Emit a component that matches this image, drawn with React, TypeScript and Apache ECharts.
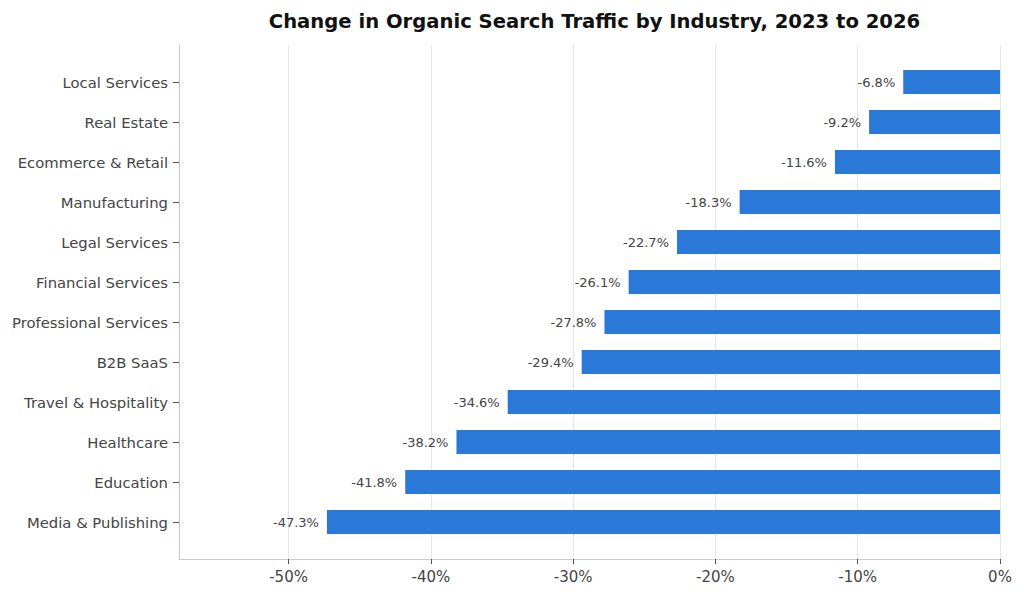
import React, { useEffect, useRef } from "react";
import * as echarts from "echarts";

const categories = [
  "Local Services",
  "Real Estate",
  "Ecommerce & Retail",
  "Manufacturing",
  "Legal Services",
  "Financial Services",
  "Professional Services",
  "B2B SaaS",
  "Travel & Hospitality",
  "Healthcare",
  "Education",
  "Media & Publishing",
];
const values = [-6.8, -9.2, -11.6, -18.3, -22.7, -26.1, -27.8, -29.4, -34.6, -38.2, -41.8, -47.3];
const xTicks = [-50, -40, -30, -20, -10, 0];

const FONT = "DejaVu Sans";

export default function App() {
  const ref = useRef<HTMLDivElement>(null);
  useEffect(() => {
    if (!ref.current) return;
    const chart = echarts.init(ref.current, undefined, { renderer: "svg" });
    const xMin = -57.7;
    chart.setOption({
      animation: false,
      backgroundColor: "#ffffff",
      textStyle: { fontFamily: FONT },
      title: {
        text: "Change in Organic Search Traffic by Industry, 2023 to 2026",
        left: 589.5,
        textAlign: "center",
        top: 6,
        textStyle: { fontFamily: FONT, fontSize: 19.6, fontWeight: "bold", color: "#111111" },
      },
      grid: [
        { left: 179, right: 24, top: 45, bottom: 38 },
        { left: 179, right: 24, top: 62, bottom: 55 },
      ],
      xAxis: [
        {
          type: "value",
          gridIndex: 0,
          min: xMin,
          max: 0,
          axisLine: { show: true, onZero: false, lineStyle: { color: "#cccccc", width: 1.2 } },
          axisTick: { show: true, customValues: xTicks, length: 5, lineStyle: { color: "#555555" } },
          axisLabel: {
            customValues: xTicks,
            formatter: (v: number) => `${Math.round(v)}%`,
            fontSize: 15,
            color: "#444444",
            margin: 10,
            fontFamily: FONT,
          },
          splitLine: { show: true, lineStyle: { color: "#e6e6e6", width: 1 } },
        },
        {
          type: "value",
          gridIndex: 1,
          min: xMin,
          max: 0,
          show: false,
        },
      ],
      yAxis: [
        {
          type: "value",
          gridIndex: 0,
          min: 0,
          max: 1,
          axisLine: { show: true, onZero: false, lineStyle: { color: "#cccccc", width: 1.2 } },
          axisTick: { show: false },
          axisLabel: { show: false },
          splitLine: { show: false },
        },
        {
          type: "category",
          gridIndex: 1,
          data: categories,
          inverse: true,
          axisLine: { show: false, onZero: false },
          axisTick: { show: true, alignWithLabel: true, length: 6, lineStyle: { color: "#555555" } },
          axisLabel: { fontSize: 14.8, color: "#444444", margin: 11, fontFamily: FONT },
          splitLine: { show: false },
        },
      ],
      series: [
        {
          type: "bar",
          xAxisIndex: 1,
          yAxisIndex: 1,
          data: values,
          barWidth: 24,
          itemStyle: { color: "#2a79d8" },
          label: {
            show: true,
            position: "left",
            distance: 8,
            formatter: (p: any) => `${p.value.toFixed(1)}%`,
            fontSize: 13,
            color: "#444444",
            fontFamily: FONT,
          },
        },
      ],
    });
    return () => chart.dispose();
  }, []);
  return (
    <div
      ref={ref}
      style={{ position: "fixed", left: 0, top: 0, width: 1024, height: 597 }}
    />
  );
}
